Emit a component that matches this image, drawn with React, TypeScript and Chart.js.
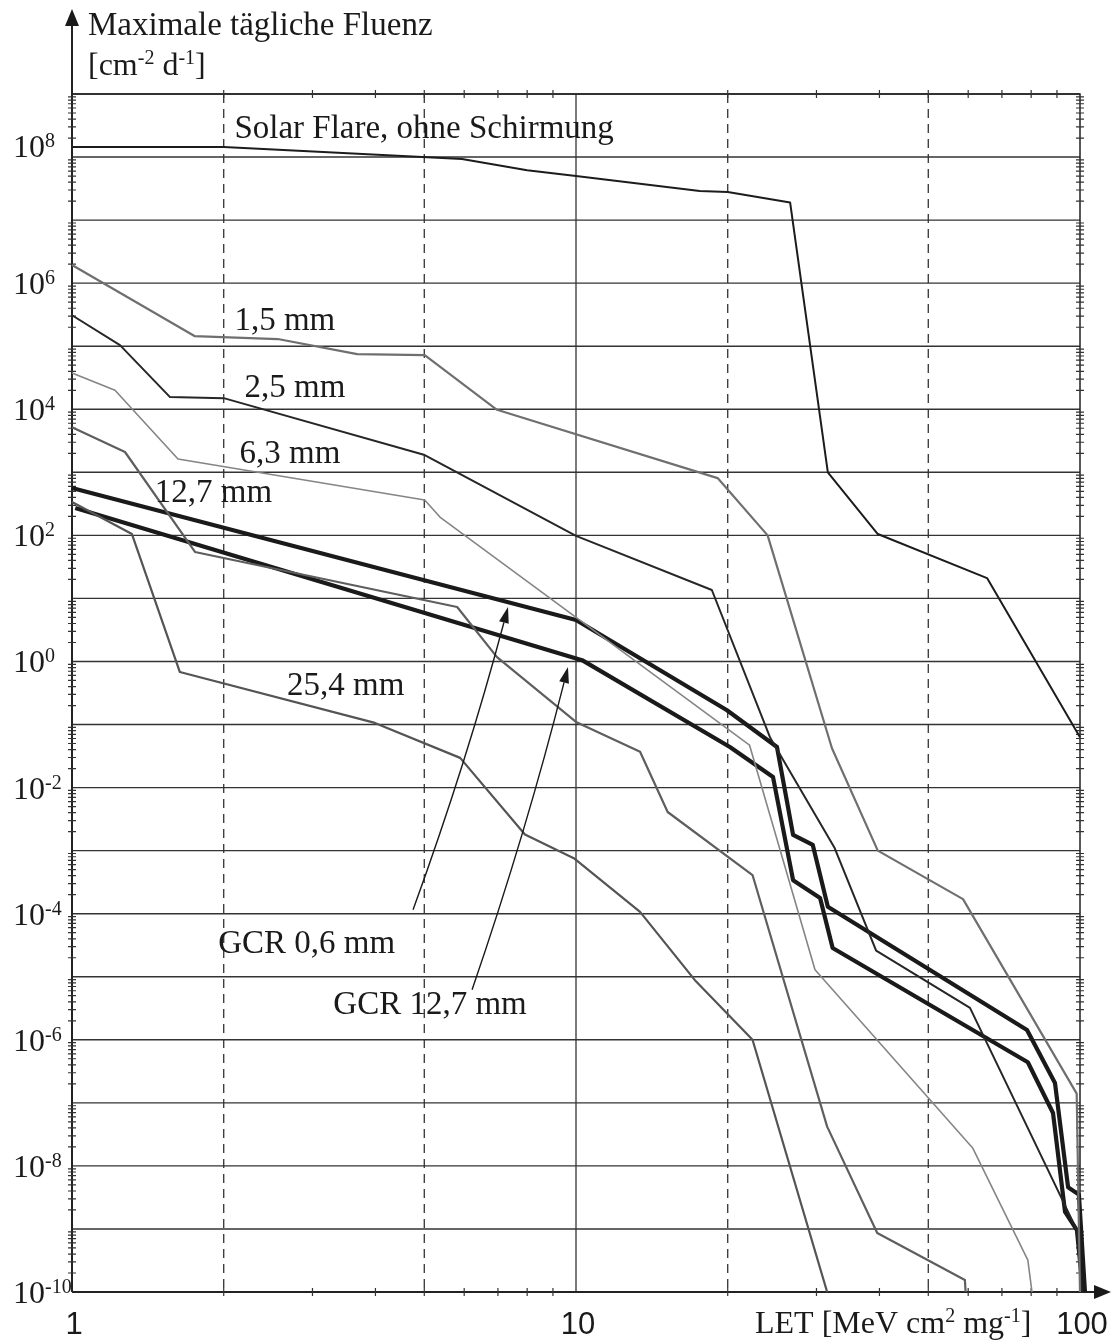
import React, { useEffect, useRef } from 'react';
import { Chart, registerables } from 'chart.js';

Chart.register(...registerables);

// ---- Data (LET [MeV cm^2/mg], max daily fluence [cm^-2 d^-1]) ----
const solarFlare: [number, number][] = [
  [1, 1.44e8], [2.0, 1.44e8], [5.94, 9.3e7], [8.0, 6.2e7], [10, 5.0e7],
  [17.6, 2.9e7], [20, 2.8e7], [26.6, 1.9e7], [31.6, 1.0e3], [39.7, 1.05e2],
  [65.4, 21], [100, 0.063], [103, 1e-10],
];
const shield15: [number, number][] = [
  [1, 1.94e6], [1.75, 1.45e5], [2.56, 1.3e5], [3.68, 7.5e4], [5.01, 7.2e4],
  [6.97, 9.8e3], [19.1, 8.1e2], [24.0, 1.0e2], [32.2, 0.042], [39.7, 1.0e-3],
  [58.6, 1.7e-4], [98.5, 1.4e-7], [100, 1e-10],
];
const shield25: [number, number][] = [
  [1, 3.1e5], [1.245, 1.04e5], [1.565, 1.56e4], [2.0, 1.5e4], [5.01, 1.88e3],
  [10, 98], [18.6, 13.6], [24.3, 0.061], [32.6, 1.1e-3], [39.4, 2.6e-5],
  [60.5, 3.2e-6], [98.6, 9.6e-10], [100.9, 1e-10],
];
const shield63: [number, number][] = [
  [1, 3.76e4], [1.217, 2.0e4], [1.623, 1.63e3], [5.01, 364], [5.37, 195],
  [22.1, 0.047], [29.8, 1.29e-5], [61.3, 1.9e-8], [78.8, 3.2e-10], [80.3, 1e-10],
];
const shield127: [number, number][] = [
  [1, 5.2e3], [1.274, 2.1e3], [1.754, 54.5], [5.81, 7.3], [6.97, 1.17],
  [10, 0.11], [13.4, 0.037], [15.2, 4.1e-3], [22.4, 4.1e-4], [31.5, 4.2e-8],
  [39.6, 8.6e-10], [59.1, 1.55e-10], [59.3, 1e-10],
];
const shield254: [number, number][] = [
  [1, 338], [1.315, 105], [1.637, 0.68], [3.99, 0.106], [5.89, 0.0296],
  [7.92, 1.8e-3], [9.9, 7.6e-4], [13.4, 1.07e-4], [17.2, 8.9e-6], [22.4, 1.0e-6],
  [31.5, 1e-10],
];
const gcr06: [number, number][] = [
  [1, 564], [10, 4.54], [19.9, 0.17], [25.05, 0.044], [26.96, 1.78e-3],
  [29.5, 1.23e-3], [31.6, 1.29e-4], [78.5, 1.43e-6], [89.2, 2.06e-7],
  [94.7, 4.6e-9], [99.5, 3.5e-9], [102.3, 1e-10],
];
const gcr127: [number, number][] = [
  [1.015, 272], [10.28, 1.05], [20.2, 0.044], [24.6, 0.0147], [26.96, 3.4e-4],
  [30.5, 1.78e-4], [32.3, 2.85e-5], [78.8, 4.4e-7], [88.4, 6.9e-8],
  [93.4, 1.86e-9], [98.6, 9.6e-10], [101.4, 1e-10],
];

const yTickExponents = [8, 6, 4, 2, 0, -2, -4, -6, -8, -10];
const xTickLabels = ['1', '10', '100'];
const xTickValues = [1, 10, 100];
const xDashedGrid = [2, 5, 20, 50];
const xSolidGrid = [10];
const xMinorTicks = [2, 3, 4, 5, 6, 7, 8, 9, 20, 30, 40, 50, 60, 70, 80, 90];

const curveLabels = [
  { text: 'Solar Flare, ohne Schirmung', x: 2.1, y: 2.0e8 },
  { text: '1,5 mm', x: 2.1, y: 1.8e5 },
  { text: '2,5 mm', x: 2.2, y: 1.56e4 },
  { text: '6,3 mm', x: 2.15, y: 1.4e3 },
  { text: '12,7 mm', x: 1.46, y: 338 },
  { text: '25,4 mm', x: 2.67, y: 0.29 },
  { text: 'GCR 0,6 mm', x: 1.95, y: 2.4e-5 },
  { text: 'GCR 12,7 mm', x: 3.3, y: 2.6e-6 },
];
const labelArrows = [
  { from: [4.75, 1.15e-4], to: [7.33, 7.3] },
  { from: [6.22, 6.2e-6], to: [9.64, 0.82] },
];

const SERIF = '"Liberation Serif", "Times New Roman", serif';
const SANS = '"Liberation Sans", Arial, sans-serif';
const INK = '#1a1a1a';

type Seg = { t: string; sup?: boolean };

function drawRich(ctx: CanvasRenderingContext2D, segs: Seg[], x: number, baseline: number, size: number, supSize: number, supRise: number) {
  let cx = x;
  ctx.textAlign = 'left';
  ctx.textBaseline = 'alphabetic';
  for (const s of segs) {
    ctx.font = `${s.sup ? supSize : size}px ${SERIF}`;
    ctx.fillText(s.t, cx, s.sup ? baseline - supRise : baseline);
    cx += ctx.measureText(s.t).width;
  }
}

const decorPlugin = {
  id: 'decor',
  beforeDatasetsDraw(chart: any) {
    const { ctx, chartArea: a, scales } = chart;
    const x = scales.x;
    const y = scales.y;
    ctx.save();
    ctx.strokeStyle = '#333';
    ctx.lineWidth = 1.4;
    for (let e = -10; e <= 9; e++) {
      const py = y.getPixelForValue(Math.pow(10, e));
      ctx.beginPath();
      ctx.moveTo(a.left, py);
      ctx.lineTo(a.right, py);
      ctx.stroke();
    }
    ctx.setLineDash([9, 6]);
    ctx.lineWidth = 1.3;
    for (const v of xDashedGrid) {
      const px = x.getPixelForValue(v);
      ctx.beginPath();
      ctx.moveTo(px, a.top);
      ctx.lineTo(px, a.bottom);
      ctx.stroke();
    }
    ctx.setLineDash([]);
    for (const v of xSolidGrid) {
      const px = x.getPixelForValue(v);
      ctx.beginPath();
      ctx.moveTo(px, a.top);
      ctx.lineTo(px, a.bottom);
      ctx.stroke();
    }
    ctx.strokeStyle = '#222';
    ctx.lineWidth = 1.5;
    ctx.beginPath();
    ctx.moveTo(a.left, a.top);
    ctx.lineTo(a.right, a.top);
    ctx.lineTo(a.right, a.bottom);
    ctx.stroke();
    ctx.lineWidth = 2;
    ctx.beginPath();
    ctx.moveTo(a.left, a.bottom);
    ctx.lineTo(a.left, 24);
    ctx.moveTo(a.left, a.bottom);
    ctx.lineTo(1098, a.bottom);
    ctx.stroke();
    ctx.fillStyle = INK;
    ctx.beginPath();
    ctx.moveTo(a.left, 9);
    ctx.lineTo(a.left - 7, 26);
    ctx.lineTo(a.left + 7, 26);
    ctx.closePath();
    ctx.fill();
    ctx.beginPath();
    ctx.moveTo(1111, a.bottom);
    ctx.lineTo(1094, a.bottom - 7);
    ctx.lineTo(1094, a.bottom + 7);
    ctx.closePath();
    ctx.fill();
    ctx.lineWidth = 1.2;
    ctx.strokeStyle = '#333';
    ctx.beginPath();
    for (let e = -10; e <= 8; e++) {
      for (let m = 2; m <= 9; m++) {
        const py = y.getPixelForValue(m * Math.pow(10, e));
        ctx.moveTo(a.left - 4, py);
        ctx.lineTo(a.left + 4, py);
        ctx.moveTo(a.right - 4, py);
        ctx.lineTo(a.right + 4, py);
      }
    }
    for (const v of xMinorTicks) {
      const px = x.getPixelForValue(v);
      ctx.moveTo(px, a.bottom - 4);
      ctx.lineTo(px, a.bottom + 4);
      ctx.moveTo(px, a.top - 4);
      ctx.lineTo(px, a.top + 4);
    }
    ctx.stroke();
    ctx.restore();
  },
  afterDatasetsDraw(chart: any) {
    const { ctx, scales } = chart;
    const x = scales.x;
    const y = scales.y;
    ctx.save();
    ctx.fillStyle = INK;
    for (const e of yTickExponents) {
      const py = y.getPixelForValue(Math.pow(10, e));
      const base = py + 11 + (e === 8 ? -11 : 0);
      drawRich(ctx, [{ t: '10' }, { t: String(e), sup: true }], 13, base, 32, 20, 10);
    }
    ctx.font = `31px ${SANS}`;
    ctx.textAlign = 'center';
    ctx.textBaseline = 'alphabetic';
    xTickValues.forEach((v, i) => {
      ctx.fillText(xTickLabels[i], x.getPixelForValue(v) + 2, 1334);
    });
    ctx.font = `33px ${SERIF}`;
    ctx.textAlign = 'left';
    ctx.fillText('Maximale tägliche Fluenz', 88, 35);
    drawRich(ctx, [{ t: '[cm' }, { t: '-2', sup: true }, { t: ' d' }, { t: '-1', sup: true }, { t: ']' }], 88, 75, 32, 20, 11);
    drawRich(ctx, [{ t: 'LET [MeV cm' }, { t: '2', sup: true }, { t: ' mg' }, { t: '-1', sup: true }, { t: ']' }], 755, 1333, 32, 20, 11);
    ctx.font = `33px ${SERIF}`;
    ctx.textAlign = 'left';
    for (const l of curveLabels) {
      ctx.fillText(l.text, x.getPixelForValue(l.x), y.getPixelForValue(l.y));
    }
    ctx.strokeStyle = INK;
    ctx.lineWidth = 1.4;
    for (const ar of labelArrows) {
      const x0 = x.getPixelForValue(ar.from[0]);
      const y0 = y.getPixelForValue(ar.from[1]);
      const x1 = x.getPixelForValue(ar.to[0]);
      const y1 = y.getPixelForValue(ar.to[1]);
      const mx = (x0 + x1) / 2;
      const my = (y0 + y1) / 2;
      const dx = x1 - x0;
      const dy = y1 - y0;
      const len = Math.hypot(dx, dy);
      const nx = dy / len;
      const ny = -dx / len;
      const cx = mx - nx * 7;
      const cy = my - ny * 7;
      const hx = x1 - cx;
      const hy = y1 - cy;
      const hl = Math.hypot(hx, hy);
      const ux = hx / hl;
      const uy = hy / hl;
      const bx = x1 - ux * 16;
      const by = y1 - uy * 16;
      ctx.beginPath();
      ctx.moveTo(x0, y0);
      ctx.quadraticCurveTo(cx, cy, bx, by);
      ctx.stroke();
      ctx.beginPath();
      ctx.moveTo(x1, y1);
      ctx.lineTo(bx - uy * 5, by + ux * 5);
      ctx.lineTo(bx + uy * 5, by - ux * 5);
      ctx.closePath();
      ctx.fill();
    }
    ctx.restore();
  },
};

function toPts(arr: [number, number][]) {
  return arr.map(([vx, vy]) => ({ x: vx, y: vy }));
}

export default function App() {
  const ref = useRef<HTMLCanvasElement | null>(null);
  useEffect(() => {
    if (!ref.current) return;
    const mk = (data: [number, number][], color: string, width: number) => ({
      data: toPts(data),
      borderColor: color,
      borderWidth: width,
      pointRadius: 0,
      fill: false,
      tension: 0,
      clip: false as const,
      borderJoinStyle: 'round' as const,
    });
    const chart = new Chart(ref.current, {
      type: 'line',
      data: {
        datasets: [
          mk(shield63, '#858585', 1.6),
          mk(shield15, '#6f6f6f', 2.2),
          mk(shield127, '#5e5e5e', 2.2),
          mk(shield254, '#545454', 2.2),
          mk(shield25, '#262626', 2),
          mk(solarFlare, '#1c1c1c', 2),
          mk(gcr127, '#1a1a1a', 4.2),
          mk(gcr06, '#1a1a1a', 4.2),
        ],
      },
      options: {
        responsive: false,
        maintainAspectRatio: false,
        animation: false,
        layout: { padding: { left: 72, right: 32, top: 94, bottom: 52 } },
        plugins: { legend: { display: false }, tooltip: { enabled: false } },
        scales: {
          x: { type: 'logarithmic', min: 1, max: 100, display: false },
          y: { type: 'logarithmic', min: 1e-10, max: 1e9, display: false },
        },
      },
      plugins: [decorPlugin],
    });
    return () => chart.destroy();
  }, []);
  return (
    <div style={{ position: 'absolute', left: 0, top: 0, width: 1112, height: 1344, background: '#fff' }}>
      <canvas ref={ref} width={1112} height={1344} style={{ display: 'block' }} />
    </div>
  );
}
